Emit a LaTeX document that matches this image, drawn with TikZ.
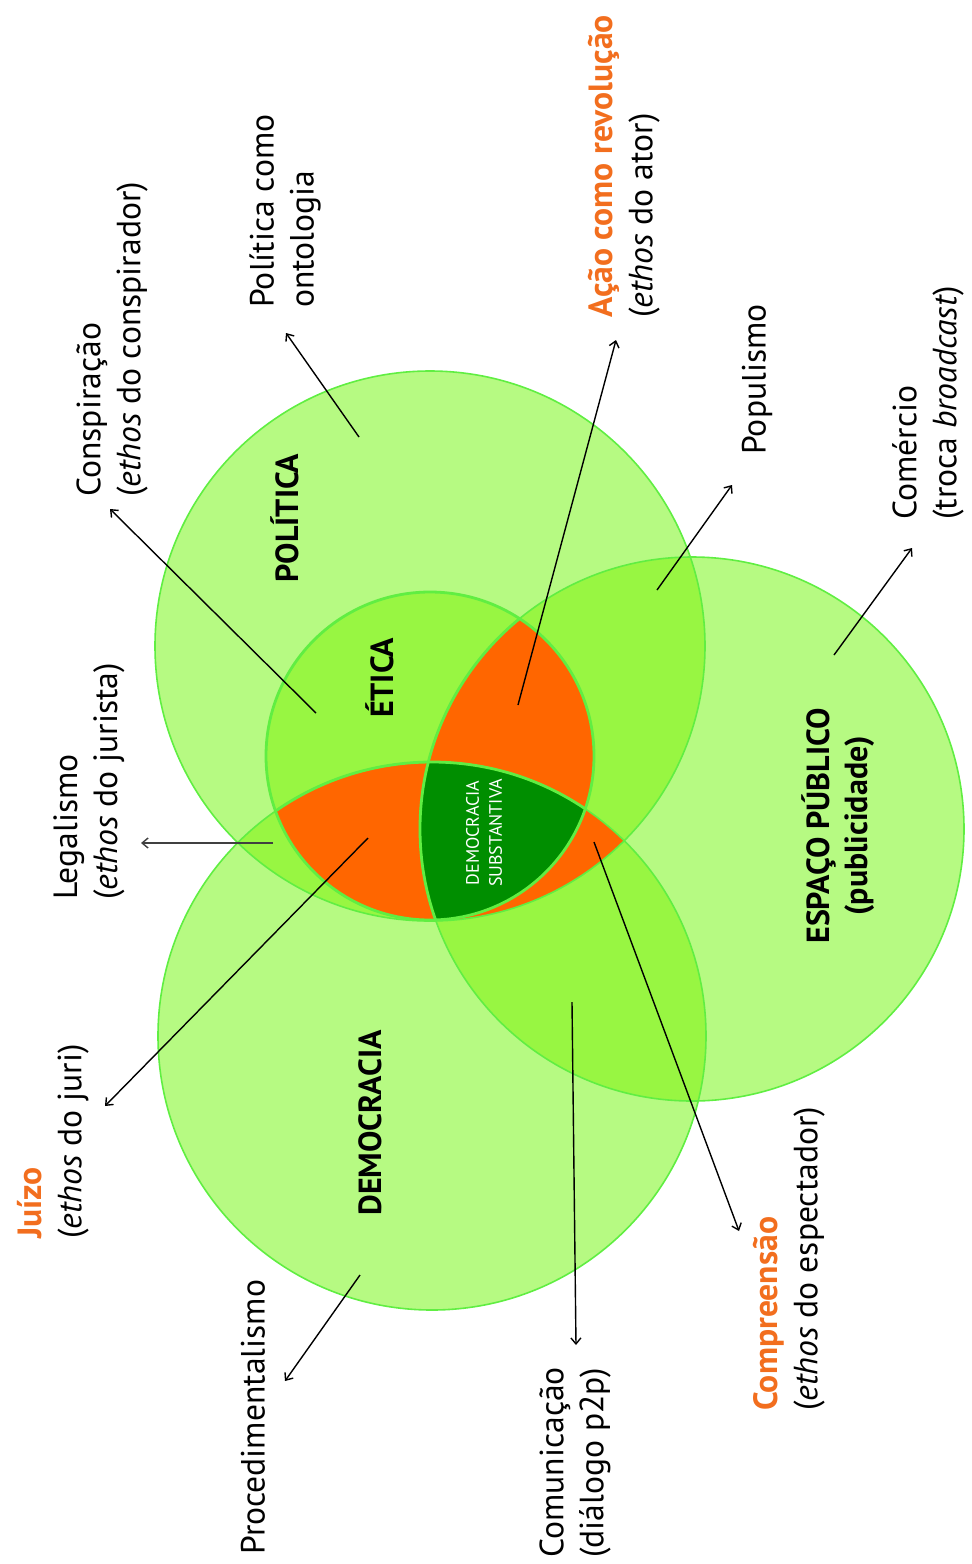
\documentclass[tikz,border=0pt]{standalone}
\usepackage{fontspec}
\setmainfont{PT Sans}
\usetikzlibrary{arrows.meta}
\definecolor{vennone}{RGB}{182,250,130}
\definecolor{venntwo}{RGB}{152,246,66}
\definecolor{vennline}{RGB}{96,238,66}
\definecolor{vennorange}{RGB}{255,102,0}
\definecolor{venndark}{RGB}{0,142,0}
\definecolor{txtorange}{RGB}{242,110,30}

\begin{document}
\begin{tikzpicture}[x=0.5pt,y=-0.5pt,>/.tip={Straight Barb[length=3pt,width=5pt]},
	lbl/.style={rotate=90,anchor=west,align=left,inner sep=0pt,font=\fontsize{16.8}{20}\selectfont},
	area/.style={rotate=90,align=center,inner sep=0pt,font=\bfseries\fontsize{16}{19}\selectfont},
	conn/.style={->,line width=0.7pt}]
	\def\pol{(430,646) circle (275)}
	\def\esp{(692,829) circle (272)}
	\def\dem{(432,1036) circle (274)}
	\def\eti{(430,756) circle (164)}
	\useasboundingbox (0,0) rectangle (971,1564);
	\fill[vennone] \pol;
	\fill[vennone] \esp;
	\fill[vennone] \dem;
	\begin{scope} \clip \pol; \fill[venntwo] \esp; \fill[venntwo] \dem; \end{scope}
	\begin{scope} \clip \esp; \fill[venntwo] \dem; \end{scope}
	\fill[venntwo] \eti;
	\begin{scope} \clip \pol; \clip \esp; \fill[vennorange] \dem; \end{scope}
	\begin{scope} \clip \eti; \fill[vennorange] \esp; \fill[vennorange] \dem; \end{scope}
	\begin{scope} \clip \eti; \clip \esp; \fill[venndark] \dem; \end{scope}
	\draw[vennline,line width=0.8pt] \pol;
	\draw[vennline,line width=0.8pt] \esp;
	\draw[vennline,line width=0.8pt] \dem;
	\begin{scope} \clip \eti; \draw[vennline,line width=1.4pt] \esp; \draw[vennline,line width=1.4pt] \dem; \end{scope}
	\draw[vennline,line width=1.4pt] \eti;

	\draw (285,518) node (pol) [area] {POLÍTICA};
	\draw (380,678) node (eti) [area] {ÉTICA};
	\draw (370,1123) node (dem) [area] {DEMOCRACIA};
	\draw (838,826) node (esp) [area] {ESPAÇO PÚBLICO\\(publicidade)};
	\draw (484,833) node (subst) [area,text=white,font=\fontsize{9}{11.5}\selectfont] {DEMOCRACIA\\SUBSTANTIVA};

	\draw (285,308) node (ont) [lbl] {Política como\\ontologia};
	\draw (112,497) node (consp) [lbl] {Conspiração\\(\textit{ethos} do conspirador)};
	\draw (624,318) node (acao) [lbl] {{\color{txtorange}\bfseries Ação como revolução}\\(\textit{ethos} do ator)};
	\draw (757,455) node (popul) [lbl] {Populismo};
	\draw (928,520) node (comer) [lbl] {Comércio\\(troca \textit{broadcast})};
	\draw (89,900) node (legal) [lbl] {Legalismo\\(\textit{ethos} do jurista)};
	\draw (53,1239) node (juizo) [lbl] {{\color{txtorange}\bfseries Juízo}\\(\textit{ethos} do juri)};
	\draw (253,1555) node (proced) [lbl] {Procedimentalismo};
	\draw (575,1558) node (comun) [lbl] {Comunicação\\(diálogo p2p)};
	\draw (789,1411) node (compr) [lbl] {{\color{txtorange}\bfseries Compreensão}\\(\textit{ethos} do espectador)};

	\coordinate (ont-a) at (359,437);   \coordinate (ont-b) at (286,333);
	\coordinate (consp-a) at (316,713); \coordinate (consp-b) at (110,509);
	\coordinate (acao-a) at (518,705);  \coordinate (acao-b) at (616,340);
	\coordinate (popul-a) at (657,590); \coordinate (popul-b) at (732,485);
	\coordinate (comer-a) at (834,655); \coordinate (comer-b) at (912,548);
	\coordinate (legal-a) at (273,843); \coordinate (legal-b) at (141,843);
	\coordinate (juizo-a) at (368,838); \coordinate (juizo-b) at (105,1106);
	\coordinate (proced-a) at (360,1275); \coordinate (proced-b) at (285,1381);
	\coordinate (comun-a) at (572,1002); \coordinate (comun-b) at (576,1345);
	\coordinate (compr-a) at (594,842); \coordinate (compr-b) at (739,1231);

	\draw[conn] (ont-a) -- (ont-b);
	\draw[conn] (consp-a) -- (consp-b);
	\draw[conn] (acao-a) -- (acao-b);
	\draw[conn] (popul-a) -- (popul-b);
	\draw[conn] (comer-a) -- (comer-b);
	\draw[conn,black!75] (legal-a) -- (legal-b);
	\draw[conn] (juizo-a) -- (juizo-b);
	\draw[conn] (proced-a) -- (proced-b);
	\draw[conn] (comun-a) -- (comun-b);
	\draw[conn] (compr-a) -- (compr-b);
\end{tikzpicture}
\end{document}
